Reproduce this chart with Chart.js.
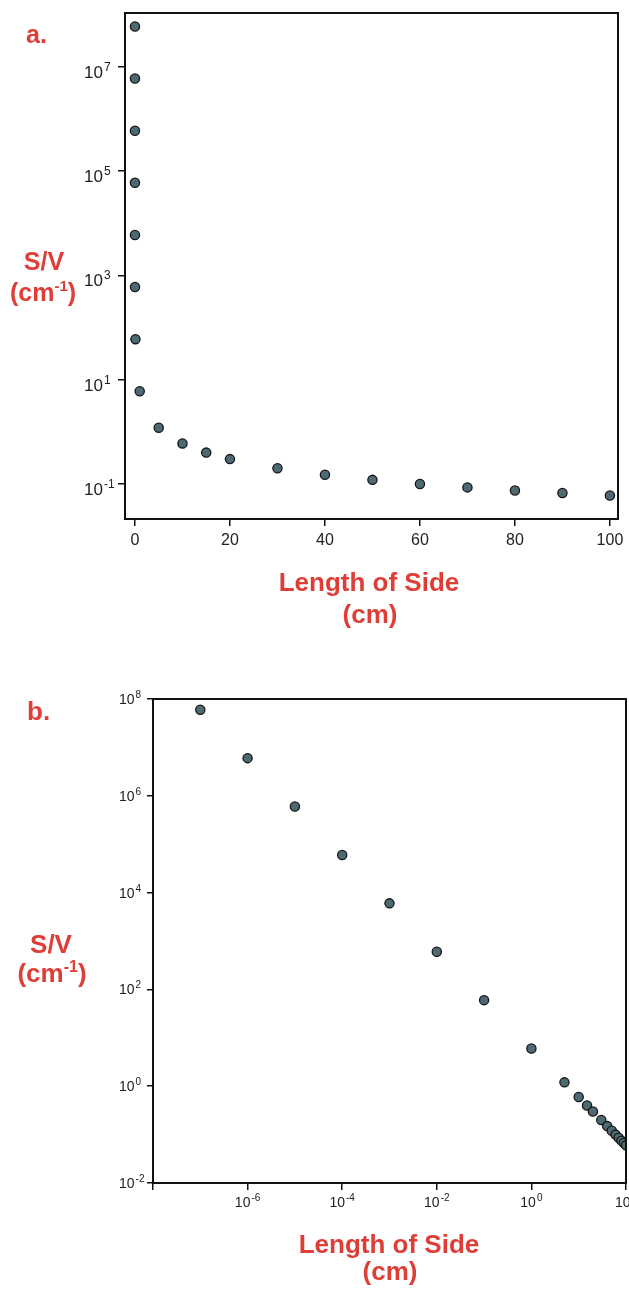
<!DOCTYPE html>
<html><head><meta charset="utf-8">
<script src="https://cdn.jsdelivr.net/npm/chart.js@4.4.1/dist/chart.umd.min.js"></script>
<style>
html,body{margin:0;padding:0;background:#fff;overflow:hidden;width:629px;height:1289px;}
#wrap{position:relative;width:629px;height:1289px;overflow:hidden;background:#fff;}
canvas{position:absolute;left:0;}
#ca{top:0;}
#cb{top:660px;}
</style></head>
<body><div id="wrap"><canvas id="ca" width="629" height="650"></canvas><canvas id="cb" width="660" height="629"></canvas></div>
<script>
// ---- data ----
const sideLengths = [1e-7, 1e-6, 1e-5, 1e-4, 1e-3, 1e-2, 1e-1, 1, 5, 10, 15, 20, 30, 40, 50, 60, 70, 80, 90, 100];
const surfaceToVolume = [6e7, 6e6, 6e5, 6e4, 6e3, 600, 60, 6, 1.2, 0.6, 0.4, 0.3, 0.2, 0.15, 0.12, 0.1, 0.086, 0.075, 0.067, 0.06];

const aXTicks = [0, 20, 40, 60, 80, 100];
const aYTicks = [1e-1, 1e1, 1e3, 1e5, 1e7];
const bXTicks = [1e-8, 1e-6, 1e-4, 1e-2, 1e0, 1e2];
const bXUnlabeled = [1e-8];
const bYTicks = [1e-2, 1e0, 1e2, 1e4, 1e6, 1e8];

const panelLabels = ['a.', 'b.'];
const yTitle = 'S/V';
const yUnitParts = ['(cm', '-1', ')'];
const xTitle = 'Length of Side';
const xUnit = '(cm)';

// ---- helpers ----
const RED = '#df3e36';
const FONT = '"Liberation Sans", Arial, Helvetica, sans-serif';

function drawRich(ctx, it){
  const size = it.size;
  const segs = it.segs;
  let total = 0;
  const widths = segs.map(s => {
    ctx.font = 'bold ' + (s[1] ? Math.round(size*0.6) : size) + 'px ' + FONT;
    const w = ctx.measureText(s[0]).width;
    total += w; return w;
  });
  let x = it.align === 'left' ? it.x : it.x - total/2;
  ctx.fillStyle = RED;
  ctx.textBaseline = 'alphabetic';
  ctx.textAlign = 'left';
  segs.forEach((s, i) => {
    ctx.font = 'bold ' + (s[1] ? Math.round(size*0.6) : size) + 'px ' + FONT;
    ctx.fillText(s[0], x, s[1] ? it.y - size*0.4 : it.y);
    x += widths[i];
  });
}

const textPlugin = {
  id: 'panelText',
  afterDraw(chart, args, opts){
    const ctx = chart.ctx;
    ctx.save();
    (opts.items || []).forEach(it => drawRich(ctx, it));
    ctx.restore();
  }
};

// power-of-ten tick labels with a raised exponent
const powTickPlugin = {
  id: 'powTicks',
  afterDraw(chart, args, opts){
    const ctx = chart.ctx;
    ctx.save();
    ctx.fillStyle = '#222';
    ctx.textAlign = 'left';
    ctx.textBaseline = 'alphabetic';
    (opts.axes || []).forEach(ax => {
      const scale = chart.scales[ax.id];
      scale.ticks.forEach(t => {
        const v = t.value;
        if ((ax.skip || []).includes(v)) return;
        const e = String(Math.round(Math.log10(v)));
        ctx.font = ax.size + 'px ' + FONT;
        const wb = ctx.measureText('10').width;
        ctx.font = ax.supSize + 'px ' + FONT;
        const we = ctx.measureText(e).width;
        const p = scale.getPixelForValue(v);
        let x0, yb, ye;
        if (ax.side === 'left') {
          x0 = ax.leftX; yb = p + ax.baseDy; ye = p + ax.supDy;
        } else {
          x0 = p - (wb + ax.gap + we) / 2 + ax.shift; yb = scale.top + ax.baseDy; ye = scale.top + ax.supDy;
        }
        ctx.font = ax.size + 'px ' + FONT;
        ctx.fillText('10', x0, yb);
        ctx.font = ax.supSize + 'px ' + FONT;
        ctx.fillText(e, x0 + wb + ax.gap, ye);
      });
    });
    ctx.restore();
  }
};

const boxPlugin = {
  id: 'frameBox',
  afterDraw(chart){
    const {ctx, chartArea: a} = chart;
    ctx.save();
    ctx.strokeStyle = '#111';
    ctx.lineWidth = 2;
    ctx.strokeRect(a.left, a.top, a.right - a.left, a.bottom - a.top);
    ctx.restore();
  }
};

function points(){ return sideLengths.map((x, i) => ({x: x, y: surfaceToVolume[i]})); }
function dataset(){
  return {
    data: points(),
    pointRadius: 4.6,
    pointBackgroundColor: '#4d6a73',
    pointBorderColor: '#151515',
    pointBorderWidth: 1.3,
    showLine: false
  };
}
function fixTicks(list){ return function(scale){ scale.ticks = list.map(v => ({value: v})); }; }
const gridOpts = len => ({ drawOnChartArea: false, drawTicks: true, tickLength: len, color: '#111', lineWidth: 1.5 });
const borderOpts = { display: true, color: '#111', width: 2 };

// ---- chart a ----
new Chart(document.getElementById('ca'), {
  type: 'scatter',
  data: { datasets: [dataset()] },
  plugins: [textPlugin, powTickPlugin, boxPlugin],
  options: {
    responsive: false, animation: false, devicePixelRatio: 1,
    layout: { padding: { left: 0, top: 13, right: 11, bottom: 91 } },
    plugins: {
      legend: { display: false }, tooltip: { enabled: false },
      panelText: { items: [
        { x: 26, y: 43, size: 25, align: 'left', segs: [[panelLabels[0], false]] },
        { x: 44, y: 270, size: 25, segs: [[yTitle, false]] },
        { x: 43, y: 301, size: 25, segs: [[yUnitParts[0], false], [yUnitParts[1], true], [yUnitParts[2], false]] },
        { x: 369, y: 591, size: 26, segs: [[xTitle, false]] },
        { x: 370, y: 623, size: 26, segs: [[xUnit, false]] }
      ] },
      powTicks: { axes: [
        { id: 'y', side: 'left', leftX: 84, size: 17, supSize: 12, gap: 1, baseDy: 11, supDy: 4 }
      ] }
    },
    scales: {
      x: {
        type: 'linear', min: -2.1, max: 101.7,
        afterBuildTicks: fixTicks(aXTicks),
        afterFit(s){ s.height = 40; },
        grid: gridOpts(7),
        border: borderOpts,
        ticks: { color: '#222', padding: 5, font: { family: FONT, size: 16 }, maxRotation: 0, autoSkip: false }
      },
      y: {
        type: 'logarithmic', min: Math.pow(10, -1.672), max: Math.pow(10, 8.036),
        afterBuildTicks: fixTicks(aYTicks),
        afterFit(s){ s.width = 125; },
        grid: gridOpts(7),
        border: borderOpts,
        ticks: { display: false, autoSkip: false }
      }
    }
  }
});

// ---- chart b ----
new Chart(document.getElementById('cb'), {
  type: 'scatter',
  data: { datasets: [dataset()] },
  plugins: [textPlugin, powTickPlugin, boxPlugin],
  options: {
    responsive: false, animation: false, devicePixelRatio: 1,
    layout: { padding: { left: 0, top: 39, right: 34, bottom: 66 } },
    plugins: {
      legend: { display: false }, tooltip: { enabled: false },
      panelText: { items: [
        { x: 27, y: 60, size: 26, align: 'left', segs: [[panelLabels[1], false]] },
        { x: 51, y: 293, size: 26, segs: [[yTitle, false]] },
        { x: 52, y: 322, size: 26, segs: [[yUnitParts[0], false], [yUnitParts[1], true], [yUnitParts[2], false]] },
        { x: 389, y: 593, size: 26, segs: [[xTitle, false]] },
        { x: 390, y: 620, size: 26, segs: [[xUnit, false]] }
      ] },
      powTicks: { axes: [
        { id: 'y', side: 'left', leftX: 119, size: 14, supSize: 10, gap: 1, baseDy: 5, supDy: -1 },
        { id: 'x', side: 'bottom', skip: bXUnlabeled, size: 14, supSize: 10, gap: 1, shift: 0, baseDy: 24, supDy: 18 }
      ] }
    },
    scales: {
      x: {
        type: 'logarithmic', min: 1e-8, max: 1e2,
        afterBuildTicks: fixTicks(bXTicks),
        afterFit(s){ s.height = 40; },
        grid: gridOpts(7),
        border: borderOpts,
        ticks: { display: false, autoSkip: false }
      },
      y: {
        type: 'logarithmic', min: 1e-2, max: 1e8,
        afterBuildTicks: fixTicks(bYTicks),
        afterFit(s){ s.width = 153; },
        grid: gridOpts(6),
        border: borderOpts,
        ticks: { display: false, autoSkip: false }
      }
    }
  }
});
</script>
</body></html>
